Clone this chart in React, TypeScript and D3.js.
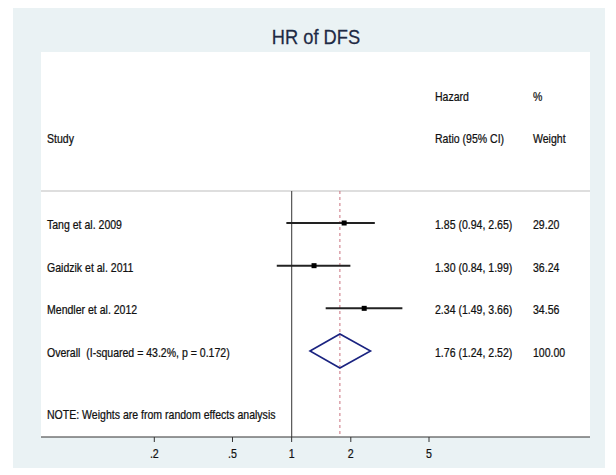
import React from "react";
import * as d3 from "d3";

const studies = ["Tang et al. 2009", "Gaidzik et al. 2011", "Mendler et al. 2012"];
const hr = [1.85, 1.3, 2.34];
const lower = [0.94, 0.84, 1.49];
const upper = [2.65, 1.99, 3.66];
const weights = ["29.20", "36.24", "34.56"];
const overallLabel = "Overall  (I-squared = 43.2%, p = 0.172)";
const overall = { hr: 1.76, lo: 1.24, hi: 2.52, weight: "100.00" };
const tickValues = [0.2, 0.5, 1, 2, 5];
const tickLabels = [".2", ".5", "1", "2", "5"];
const title = "HR of DFS";
const note = "NOTE: Weights are from random effects analysis";

const FONT = "'Liberation Sans', Arial, sans-serif";

function T(props: { x: number; y: number; size: number; sx?: number; anchor?: string; fill?: string; children: React.ReactNode }) {
  const { x, y, size, sx = 0.85, anchor = "start", fill = "#111", children } = props;
  return (
    <text
      transform={`translate(${x},${y}) scale(${sx},1)`}
      textAnchor={anchor}
      fontSize={size}
      fill={fill}
      stroke={fill}
      strokeWidth={0.25}
      style={{ whiteSpace: "pre" }}
    >
      {children}
    </text>
  );
}

export default function App() {
  const W = 616, H = 475;
  const panel = { left: 41, right: 590, top: 52, bottom: 437 };
  const x = d3.scaleLog().domain([0.2, 5]).range([154.3, 429]);
  const rowY = d3.scalePoint<number>().domain([0, 1, 2, 3]).range([223, 351]);
  const hrX = 435;
  const wX = 533;
  const lineTop = 191;
  const fmt = d3.format(".2f");
  const ci = (h: number, l: number, u: number) => `${fmt(h)} (${fmt(l)}, ${fmt(u)})`;
  const oy = rowY(3)!;
  const halfH = 17;
  const diamond = d3.line()([
    [x(overall.lo), oy],
    [x(overall.hr), oy - halfH],
    [x(overall.hi), oy],
    [x(overall.hr), oy + halfH],
  ]) + "Z";
  const fs = 12.4;

  return (
    <svg width={W} height={H} style={{ position: "absolute", left: 0, top: 0 }} fontFamily={FONT}>
      <rect x={0} y={0} width={W} height={H} fill="#ffffff" />
      <rect x={13} y={8} width={592} height={460} fill="#eaf2f4" />
      <rect x={panel.left} y={panel.top} width={panel.right - panel.left} height={panel.bottom - panel.top} fill="#ffffff" />
      <T x={316} y={44} size={21} sx={0.87} anchor="middle" fill="#1e2a44">{title}</T>

      {/* headers */}
      <T x={hrX} y={100.5} size={fs}>Hazard</T>
      <T x={wX} y={100.5} size={fs}>%</T>
      <T x={47} y={142.5} size={fs}>Study</T>
      <T x={hrX} y={142.5} size={fs}>Ratio (95% CI)</T>
      <T x={wX} y={142.5} size={fs}>Weight</T>
      <line x1={panel.left} x2={panel.right} y1={lineTop} y2={lineTop} stroke="#dedede" strokeWidth={2} />

      {/* reference lines */}
      <line x1={x(1)} x2={x(1)} y1={lineTop} y2={panel.bottom} stroke="#555" strokeWidth={1.2} />
      <line x1={x(overall.hr)} x2={x(overall.hr)} y1={lineTop} y2={panel.bottom} stroke="#c9707e" strokeWidth={1} strokeDasharray="3,3" />

      {/* studies */}
      {studies.map((s, i) => {
        const y = rowY(i)!;
        return (
          <g key={s}>
            <line x1={x(lower[i])} x2={x(upper[i])} y1={y} y2={y} stroke="#222" strokeWidth={2} />
            <rect x={x(hr[i]) - 2.5} y={y - 2.5} width={5} height={5} fill="#000" />
            <T x={47} y={y + 6} size={fs}>{s}</T>
            <T x={hrX} y={y + 6} size={fs}>{ci(hr[i], lower[i], upper[i])}</T>
            <T x={wX} y={y + 6} size={fs}>{weights[i]}</T>
          </g>
        );
      })}

      {/* overall */}
      <path d={diamond} fill="none" stroke="#1a2380" strokeWidth={1.6} />
      <T x={47} y={oy + 6} size={fs}>{overallLabel}</T>
      <T x={hrX} y={oy + 6} size={fs}>{ci(overall.hr, overall.lo, overall.hi)}</T>
      <T x={wX} y={oy + 6} size={fs}>{overall.weight}</T>

      <T x={47} y={419} size={fs}>{note}</T>

      {/* axis */}
      <line x1={panel.left} x2={panel.right} y1={panel.bottom} y2={panel.bottom} stroke="#333" strokeWidth={1.2} />
      {tickValues.map((t, i) => (
        <g key={t}>
          <line x1={x(t)} x2={x(t)} y1={panel.bottom} y2={panel.bottom + 5} stroke="#333" strokeWidth={1} />
          <T x={x(t)} y={458} size={12.5} anchor="middle">{tickLabels[i]}</T>
        </g>
      ))}
    </svg>
  );
}
